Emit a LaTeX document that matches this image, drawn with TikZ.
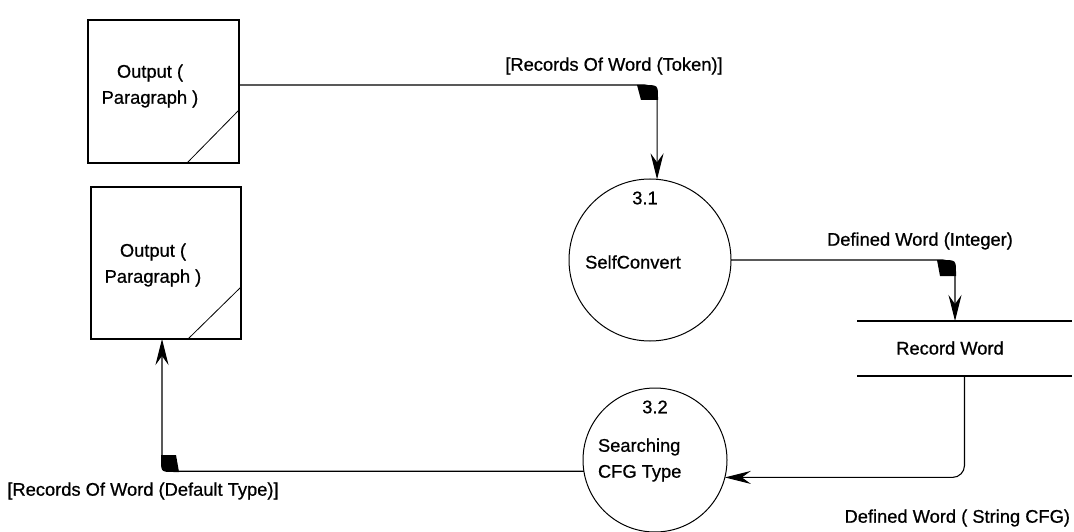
\documentclass[tikz,border=0pt]{standalone}
\usepackage{fontspec}
\setmainfont{Liberation Sans}[FakeBold=0.7]
\usetikzlibrary{arrows.meta,calc}
\begin{document}
\begin{tikzpicture}[x=1pt,y=-1pt,
  every node/.style={font=\fontsize{18.3}{26}\selectfont, inner sep=0pt, outer sep=0pt},
  entity/.style={draw, line width=1.1pt, rectangle},
  proc/.style={draw, line width=1pt, circle},
  flow/.style={line width=1.1pt, rounded corners=12pt},
  arr/.style={-{Stealth[length=26pt,width=13pt,inset=9pt]}}]
\useasboundingbox (0,0) rectangle (1074,532);

% external entities
\node[entity, minimum width=151pt, minimum height=143pt] (box1) at (163.5,91.5) {};
\node[entity, minimum width=150pt, minimum height=152pt] (box2) at (166,263) {};
\draw[line width=0.8pt] ($(box1.south east)+(-52,0)$) -- ($(box1.south east)+(0,-53)$);
\draw[line width=0.8pt] ($(box2.south east)+(-53,0)$) -- ($(box2.south east)+(0,-52)$);
\node[align=center] (b1t) at (150,86) {Output (\\Paragraph )};
\node[align=center] (b2t) at (153,265) {Output (\\Paragraph )};

% processes
\node[proc, minimum size=162pt] (p31) at (650,260) {};
\node (t31) at (645,198) {3.1};
\node (n31) at (633,262) {SelfConvert};
\node[proc, minimum size=144pt] (p32) at (655,460) {};
\node (t32) at (655,407) {3.2};
\node[align=left, anchor=west] (n32) at (598,460) {Searching\\CFG Type};

% data store
\node[minimum width=215pt, minimum height=55pt] (store) at (964.5,348.5) {};
\draw[line width=1.1pt] (store.north west) -- (store.north east);
\draw[line width=1.1pt] (store.south west) -- (store.south east);
\node (st) at (950,348) {Record Word};

% helper coordinates for bends
\coordinate (y1) at (0,85);
\coordinate (k2) at (955,0);
\coordinate (k4) at (162,0);

% flows
\draw[flow, arr] (box1.east |- y1) -| (p31.85);
\draw[flow, arr] (p31.east) -| (store.north -| k2);
\draw[flow, arr] (store.south) |- (p32.-14);
\draw[flow, arr] (p32.189) -| (box2.south -| k4);

% filled corner marks
\fill (637,85) -- (644,85) .. controls (658,85) .. (658,98) -- (658,100) -- (641,100) -- cycle;
\fill (937,260) -- (942,260) .. controls (956,260) .. (956,273) -- (956,276) -- (940,276) -- cycle;
\fill (161,455) -- (176,455) -- (179,472) -- (174,472) .. controls (161,472) .. (161,459) -- cycle;

% flow labels
\node (l1) at (614,66) {[Records Of Word (Token)]};
\node (l2) at (920,241) {Defined Word (Integer)};
\node[anchor=east] (l3) at (1070,518) {Defined Word ( String CFG)};
\node (l4) at (143,491) {[Records Of Word (Default Type)]};
\end{tikzpicture}
\end{document}
